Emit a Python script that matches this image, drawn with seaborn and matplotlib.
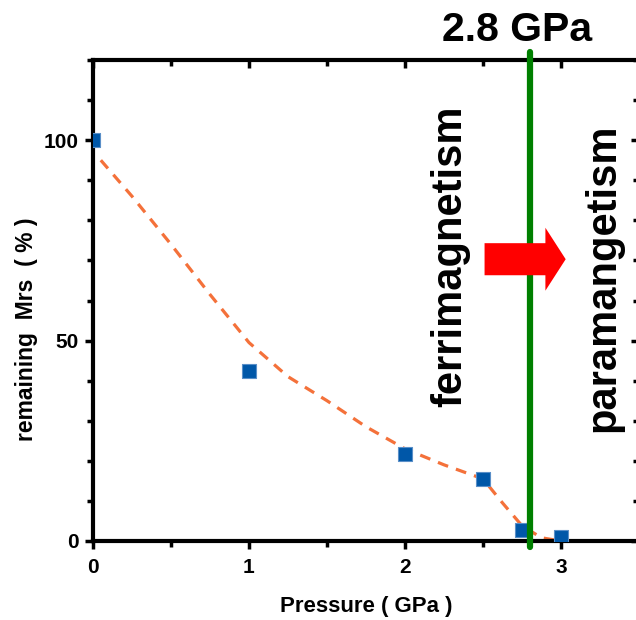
import seaborn as sns
import pandas as pd
import matplotlib.pyplot as plt
from matplotlib.ticker import MultipleLocator

# measured points
pressure = [0, 1, 2, 2.5, 2.75, 3]
remaining = [100, 42.3, 21.8, 15.5, 2.7, 1.0]

# guide curve
fit_p = [0.05, 0.25, 0.5, 0.75, 1.0, 1.25, 1.5, 1.75, 2.0, 2.25, 2.5, 2.625, 2.75, 2.875, 3.0]
fit_r = [95, 86, 74, 61.5, 49.5, 41, 35, 28.5, 23, 19, 15.5, 9.5, 3.8, 0.8, 0.0]

transition = 2.8
transition_label = "2.8 GPa"
left_phase = "ferrimagnetism"
right_phase = "paramangetism"

sns.set_theme()
sns.set_style("ticks")
plt.rcParams["font.family"] = ["Liberation Sans", "DejaVu Sans"]
plt.rcParams["font.weight"] = "bold"
plt.rcParams["text.color"] = "black"
plt.rcParams["axes.labelcolor"] = "black"
plt.rcParams["xtick.labelcolor"] = "black"
plt.rcParams["ytick.labelcolor"] = "black"

fig = plt.figure(figsize=(6.36, 6.2), dpi=100)
ax = fig.add_axes([93 / 636, 79 / 620, 546 / 636, 481 / 620])

df_pts = pd.DataFrame({"p": pressure, "r": remaining})
df_fit = pd.DataFrame({"p": fit_p, "r": fit_r})

sns.lineplot(data=df_fit, x="p", y="r", ax=ax, color="#F4713A", lw=2.3,
             linestyle=(0, (3.4, 2.6)), zorder=2)
sns.scatterplot(data=df_pts, x="p", y="r", ax=ax, marker="s", s=115,
                color="#0057A8", edgecolor="#5A8FC8", linewidth=0.8, zorder=3)

# transition line, runs a bit past the frame
ax.plot([transition, transition], [-1.5, 122], color="#008000", lw=4.5,
        clip_on=False, zorder=4)

# red arrow
ax.arrow(2.51, 70.3, 0.52, 0, width=8, head_width=15.7, head_length=0.13,
         length_includes_head=True, color="#FF0000", lw=0, zorder=5)

ax.text(2.72, 127.5, transition_label, fontsize=29.5, fontweight="bold",
        ha="center", va="center", clip_on=False)
ax.text(2.29, 71, left_phase, rotation=90, fontsize=30, fontweight="bold",
        ha="center", va="center")
ax.text(3.27, 65.8, right_phase, rotation=90, fontsize=30, fontweight="bold",
        ha="center", va="center")

ax.set_xlim(0, 3.5)
ax.set_ylim(0, 120)
ax.xaxis.set_major_locator(MultipleLocator(1))
ax.xaxis.set_minor_locator(MultipleLocator(0.5))
ax.yaxis.set_major_locator(MultipleLocator(50))
ax.yaxis.set_minor_locator(MultipleLocator(10))

for s in ax.spines.values():
    s.set_linewidth(3)
    s.set_color("black")

ax.tick_params(axis="both", which="major", length=6, width=2.5, labelsize=15,
               color="black")
ax.tick_params(axis="x", which="major", pad=6)
ax.tick_params(axis="y", which="major", pad=4)
ax.tick_params(axis="both", which="minor", length=4, width=2.5, color="black")
ax.tick_params(axis="x", which="both", direction="out", top=True)
ax.tick_params(axis="y", which="both", direction="out", right=True)
for t in ax.xaxis.get_ticklines(minor=False)[1::2] + ax.xaxis.get_ticklines(minor=True)[1::2]:
    t.set_marker(3)
for t in ax.yaxis.get_ticklines(minor=False)[1::2] + ax.yaxis.get_ticklines(minor=True)[1::2]:
    t.set_marker(0)
for lab in ax.get_xticklabels() + ax.get_yticklabels():
    lab.set_fontweight("bold")

ax.set_xlabel("Pressure ( GPa )", fontsize=16, fontweight="bold", labelpad=14)
ax.set_ylabel("remaining  Mrs  ( % )", fontsize=16.5, fontweight="bold")
ax.yaxis.set_label_coords(-0.1, 0.44)

fig.savefig("out.png", dpi=100)
